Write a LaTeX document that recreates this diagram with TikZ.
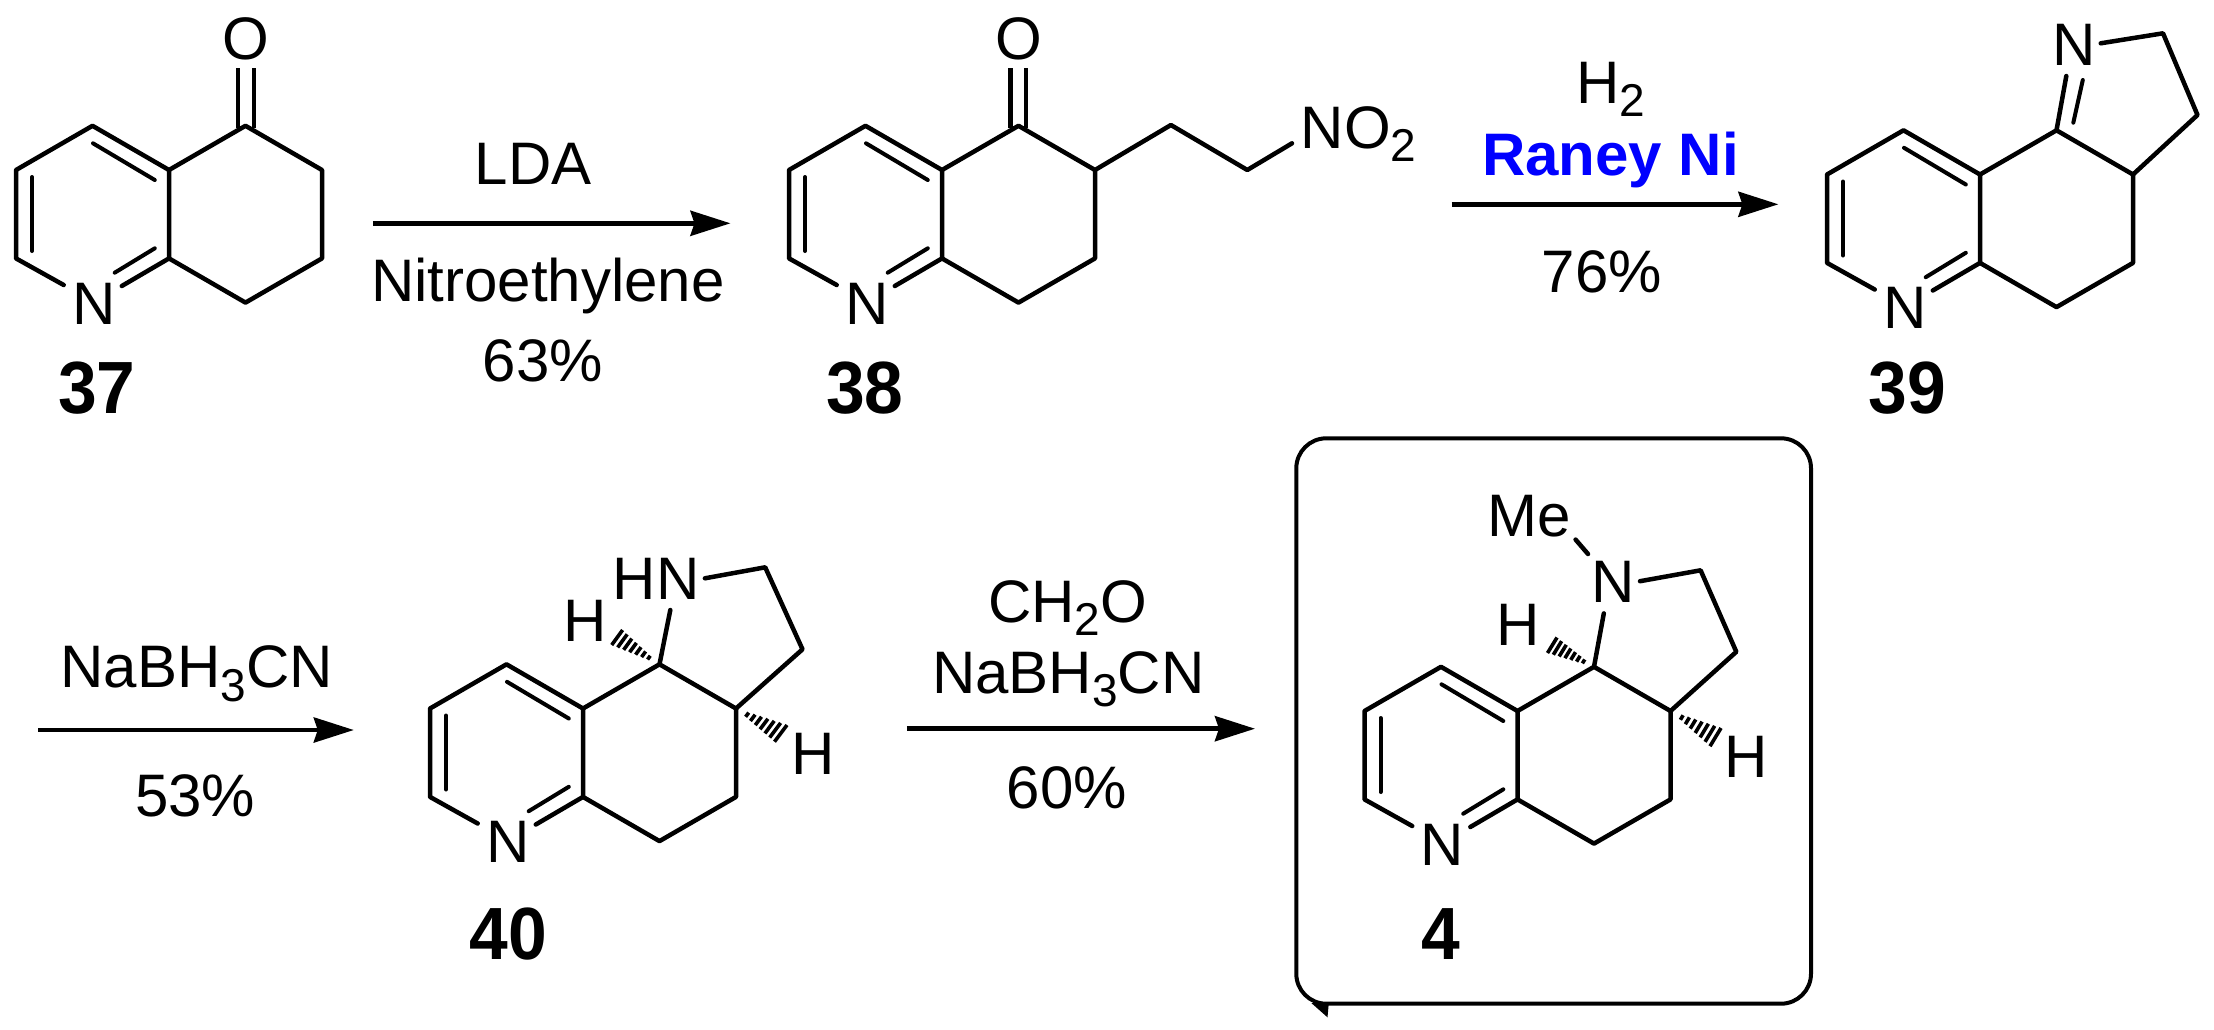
\documentclass[tikz,border=0pt]{standalone}
\usepackage{fontspec}
\setmainfont{Liberation Sans}
\usetikzlibrary{arrows.meta,calc}
\newcommand{\chemdn}[2]{\raisebox{-#1pt}{\fontsize{46}{50}\selectfont #2}}
\newcommand{\cmpdnum}[1]{\scalebox{.94}[1]{#1}}
\tikzset{
  bond/.style={line width=4.5pt,line join=round,line cap=round},
  dblinner/.style={line width=4pt,line cap=round},
  hashmark/.style={line width=3.6pt},
  rxnarrow/.style={line width=4.6pt,-{Stealth[length=40pt,width=25pt,inset=4pt]}},
  atomlabel/.style={inner sep=0pt,anchor=base,font=\fontsize{60}{72}\selectfont},
  reagent/.style={atomlabel},
  cmpd/.style={inner sep=0pt,anchor=base,font=\fontsize{74}{88}\bfseries\selectfont},
}
% quinoline skeleton; #1 prefix, #2,#3 position of upper ring-fusion atom
\newcommand{\quinoline}[3]{%
\begin{scope}[shift={(#2,#3)}]
  \coordinate (#1J) at (0,0);
  \coordinate (#1a) at (-76.5,-44.2);
  \coordinate (#1b) at (-153,0);
  \coordinate (#1c) at (-153,88.4);
  \coordinate (#1d) at (0,88.4);
  \coordinate (#1e) at (76.5,-44.2);
  \coordinate (#1f) at (153,0);
  \coordinate (#1g) at (153,88.4);
  \coordinate (#1h) at (76.5,132.6);
  \coordinate (#1cN) at (-105.3,115);
  \coordinate (#1dN) at (-47.2,116);
  \coordinate (#1i1) at (-54.3,102.7);
  \coordinate (#1i2) at (-14.2,78.3);
  \coordinate (#1i3) at (-76,-26.7);
  \coordinate (#1i4) at (-14.2,10);
  \coordinate (#1i5) at (-137,7);
  \coordinate (#1i6) at (-137,81);
  \node[atomlabel] (#1N) at (-75.3,154.3) {N};
  \draw[bond] (#1cN) -- (#1c) -- (#1b) -- (#1a) -- (#1J) -- (#1d) -- (#1dN);
  \draw[bond] (#1J) -- (#1e) -- (#1f) -- (#1g) -- (#1h) -- (#1d);
  \draw[dblinner] (#1i1) -- (#1i2);
  \draw[dblinner] (#1i3) -- (#1i4);
  \draw[dblinner] (#1i5) -- (#1i6);
\end{scope}}
% hashed bond from atom #1 widening to #2 and #3
\newcommand{\hashbond}[3]{%
  \foreach \t in {0.25,0.375,0.5,0.625,0.75,0.875,1.0}
    \draw[hashmark] ($(#1)!\t!(#2)$) -- ($(#1)!\t!(#3)$);}
\begin{document}
\begin{tikzpicture}[x=1pt,y=-1pt]
\fill[white] (0,0) rectangle (2214,1029);
\useasboundingbox (0,0) rectangle (2214,1029);

% ---------- 37
\quinoline{A}{169}{170}
\node[atomlabel] (AO) at (245.9,59.5) {O};
\coordinate (AO1) at (238.2,68); \coordinate (AO2) at (253.8,68);
\coordinate (Ae1) at (238.2,128); \coordinate (Ae2) at (253.8,128);
\draw[bond,line cap=butt] (AO1) -- (Ae1);
\draw[bond,line cap=butt] (AO2) -- (Ae2);
\node[cmpd] (L37) at (96.7,413) {\cmpdnum{37}};

% arrow 1
\coordinate (r1s) at (372.8,223.3); \coordinate (r1e) at (730.5,223.3);
\draw[rxnarrow] (r1s) -- (r1e);
\node[reagent] (r1a) at (533.3,184.3) {LDA};
\node[reagent] (r1b) at (548,301.7) {Nitroethylene};
\node[reagent] (r1c) at (542.7,381) {63\%};

% ---------- 38
\quinoline{B}{942}{170}
\node[atomlabel] (BO) at (1018.4,59.5) {O};
\coordinate (BO1) at (1010.6,68); \coordinate (BO2) at (1026.2,68);
\coordinate (Be1) at (1010.6,128); \coordinate (Be2) at (1026.2,128);
\draw[bond,line cap=butt] (BO1) -- (Be1);
\draw[bond,line cap=butt] (BO2) -- (Be2);
\coordinate (Bc1) at (1170.9,125);
\coordinate (Bc2) at (1247.3,170);
\coordinate (Bc3) at (1292,143.3);
\draw[bond] (Bf) -- (Bc1) -- (Bc2) -- (Bc3);
\node[atomlabel,anchor=base west] (BNO) at (1300.5,148.3) {NO\chemdn{13.4}{2}};
\node[cmpd] (L38) at (865,413) {\cmpdnum{38}};

% arrow 2
\coordinate (r2s) at (1451.6,204.3); \coordinate (r2e) at (1778.4,204.3);
\draw[rxnarrow] (r2s) -- (r2e);
\node[reagent] (r2a) at (1610.5,103.3) {H\chemdn{13.4}{2}};
\node[reagent,text={rgb,255:red,0;green,0;blue,255},font=\fontsize{60}{72}\bfseries\selectfont] (r2b) at (1610.4,175) {Raney Ni};
\node[reagent] (r2c) at (1602,292.7) {76\%};

% ---------- 39
\quinoline{C}{1980}{174.5}
\node[atomlabel] (CN2) at (2074.3,65) {N};
\coordinate (Cn1) at (2066.3,76);
\coordinate (Cn2) at (2082.8,80);
\coordinate (Cn3) at (2073.3,122.7);
\coordinate (Cn4) at (2100.7,43.3);
\coordinate (Cc1) at (2163,33.3);
\coordinate (Cc2) at (2197.5,115);
\draw[bond] (Ce) -- (Cn1);
\draw[dblinner] (Cn3) -- (Cn2);
\draw[bond] (Cn4) -- (Cc1) -- (Cc2) -- (Cf);
\node[cmpd] (L39) at (1907,413) {\cmpdnum{39}};

% arrow 3
\coordinate (r3s) at (38.4,730); \coordinate (r3e) at (353.8,730);
\draw[rxnarrow] (r3s) -- (r3e);
\node[reagent] (r3a) at (196.6,687.7) {NaBH\chemdn{13.4}{3}CN};
\node[reagent] (r3c) at (195.3,816.7) {53\%};

% ---------- 40
\quinoline{D}{583}{708.5}
\node[atomlabel] (DHN) at (656.3,599.3) {HN};
\coordinate (Dn1) at (670.3,610);
\coordinate (Dn2) at (704.9,578.3);
\coordinate (Dc1) at (765.2,567.3);
\coordinate (Dc2) at (802.5,649.3);
\draw[bond] (De) -- (Dn1);
\draw[bond] (Dn2) -- (Dc1) -- (Dc2) -- (Df);
\node[atomlabel] (DH1) at (585,641) {H};
\node[atomlabel] (DH2) at (813.2,774.3) {H};
\coordinate (Dw1) at (622.6,630); \coordinate (Dw2) at (611.7,645);
\coordinate (Dw3) at (774.5,741.7); \coordinate (Dw4) at (787,725);
\hashbond{De}{Dw1}{Dw2}
\hashbond{Df}{Dw3}{Dw4}
\node[cmpd] (L40) at (508.5,959.5) {\cmpdnum{40}};

% arrow 4
\coordinate (r4s) at (906.9,728.7); \coordinate (r4e) at (1255,728.7);
\draw[rxnarrow] (r4s) -- (r4e);
\node[reagent] (r4a) at (1067.5,622) {CH\chemdn{13.4}{2}O};
\node[reagent] (r4b) at (1068.2,693) {NaBH\chemdn{13.4}{3}CN};
\node[reagent] (r4c) at (1067,808.3) {60\%};

% ---------- 4 with box
\draw[line width=4pt,rounded corners=30pt] (1296.3,438.3) rectangle (1811,1003.7);
\coordinate (t1) at (1311.3,1003); \coordinate (t2) at (1328.8,1003); \coordinate (t3) at (1327.5,1017.3);
\fill (t1) -- (t2) -- (t3) -- cycle;
\quinoline{E}{1517.5}{711}
\node[atomlabel] (EN2) at (1612.8,602.5) {N};
\node[atomlabel] (EMe) at (1529.4,536.5) {Me};
\coordinate (En1) at (1603.8,613.4);
\coordinate (En2) at (1640,581.2);
\coordinate (Ec1) at (1700.6,570.3);
\coordinate (Ec2) at (1736.3,651.8);
\coordinate (Em1) at (1575.6,539.6);
\coordinate (Em2) at (1588,554);
\draw[bond] (Ee) -- (En1);
\draw[bond] (En2) -- (Ec1) -- (Ec2) -- (Ef);
\draw[bond] (Em1) -- (Em2);
\node[atomlabel] (EH1) at (1518.3,645) {H};
\node[atomlabel] (EH2) at (1746.6,777.3) {H};
\coordinate (Ew1) at (1557,637.5); \coordinate (Ew2) at (1547.5,653);
\coordinate (Ew3) at (1710,746.2); \coordinate (Ew4) at (1721,728);
\hashbond{Ee}{Ew1}{Ew2}
\hashbond{Ef}{Ew3}{Ew4}
\node[cmpd] (L4) at (1441,959.8) {\cmpdnum{4}};
\end{tikzpicture}
\end{document}
